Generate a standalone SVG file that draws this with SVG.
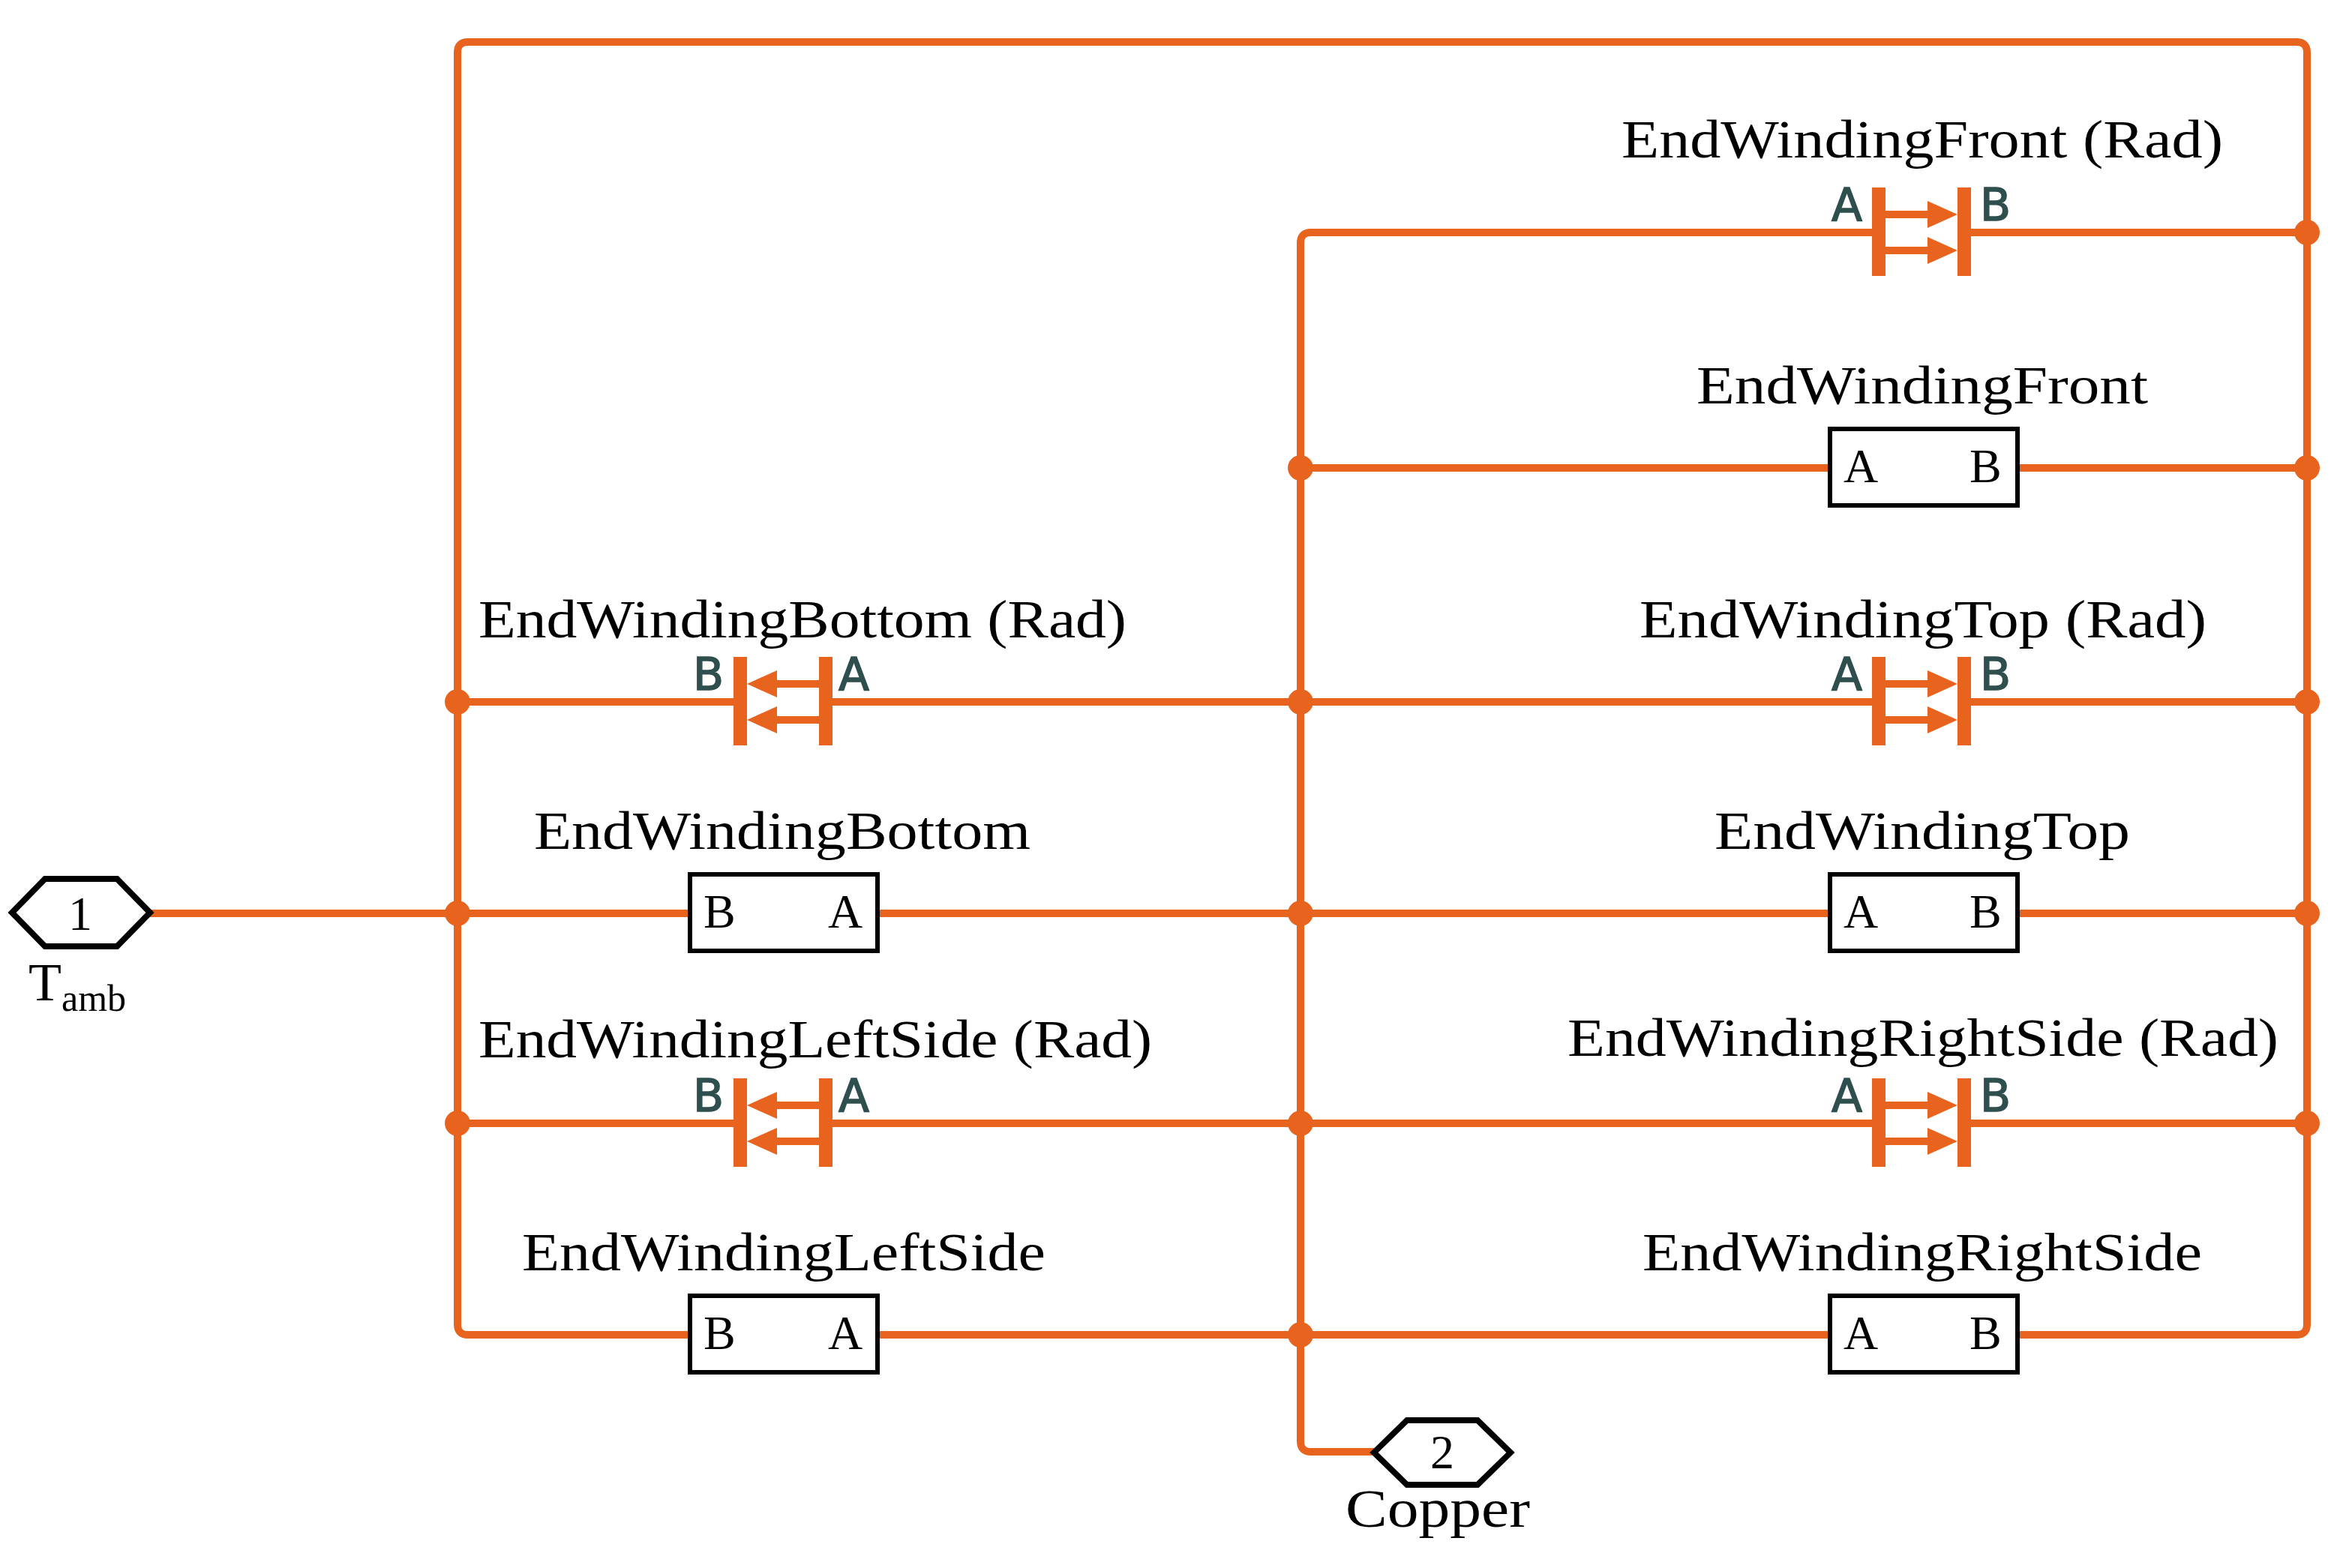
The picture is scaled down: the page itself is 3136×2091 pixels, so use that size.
<svg xmlns="http://www.w3.org/2000/svg" width="3136" height="2091" viewBox="0 0 3136 2091">
<style>
.w{fill:none;stroke:#E8641E;stroke-width:10;stroke-linecap:butt}
.d{fill:#E8641E}
.box{fill:#fff;stroke:#000;stroke-width:6}
.hex{fill:#fff;stroke:#000;stroke-width:8}
.lbl{font-family:"Liberation Serif",serif;font-size:72px;fill:#000}
.pin{font-family:"Liberation Serif",serif;font-size:64px;fill:#000}
.rp{font-family:"DejaVu Sans","Liberation Sans",sans-serif;font-size:60px;fill:#2F4F4F;stroke:#2F4F4F;stroke-width:1.5}
</style>
<defs>
<g id="rad">
<rect x="-66" y="-60" width="18" height="118" fill="#E8641E"/>
<rect x="48" y="-60" width="18" height="118" fill="#E8641E"/>
<path d="M-50 -24H14M-50 24H14" stroke="#E8641E" stroke-width="10"/>
<polygon points="8,-42 48,-24 8,-6" fill="#E8641E"/>
<polygon points="8,6 48,24 8,42" fill="#E8641E"/>
</g>
</defs>
<g id="connectors">
<path class="w" d="M920 1780H624Q610 1780 610 1766V70Q610 56 624 56H3062Q3076 56 3076 70V1766Q3076 1780 3062 1780H2690"/>
<path class="w" d="M2500 310H1748Q1734 310 1734 324V1922Q1734 1936 1748 1936H1832"/>
<path class="w" d="M2626 310H3076M1734 624H2440M2690 624H3076M610 936H980M1108 936H2498M2626 936H3076M200 1218H920M1170 1218H2440M2690 1218H3076M610 1498H980M1108 1498H2498M2626 1498H3076M1170 1780H2440"/>
<g class="d">
<circle cx="1734" cy="624" r="17"/><circle cx="3076" cy="310" r="17"/><circle cx="3076" cy="624" r="17"/>
<circle cx="610" cy="936" r="17"/><circle cx="1734" cy="936" r="17"/><circle cx="3076" cy="936" r="17"/>
<circle cx="610" cy="1218" r="17"/><circle cx="1734" cy="1218" r="17"/><circle cx="3076" cy="1218" r="17"/>
<circle cx="610" cy="1498" r="17"/><circle cx="1734" cy="1498" r="17"/><circle cx="3076" cy="1498" r="17"/>
<circle cx="1734" cy="1780" r="17"/>
</g>
</g>
<g id="EndWindingFrontRad">
<use href="#rad" x="2562" y="310"/>
<text class="rp" x="2442" y="294">A</text><text class="rp" x="2640" y="294">B</text>
<text class="lbl" x="2162" y="210" textLength="802" lengthAdjust="spacingAndGlyphs">EndWindingFront (Rad)</text>
</g>
<g id="EndWindingFront">
<rect class="box" x="2440" y="572" width="250" height="102"/>
<text class="pin" x="2458" y="643">A</text><text class="pin" x="2626" y="643">B</text>
<text class="lbl" x="2262" y="538" textLength="602" lengthAdjust="spacingAndGlyphs">EndWindingFront</text>
</g>
<g id="EndWindingTopRad">
<use href="#rad" x="2562" y="936"/>
<text class="rp" x="2442" y="920">A</text><text class="rp" x="2640" y="920">B</text>
<text class="lbl" x="2186" y="850" textLength="756" lengthAdjust="spacingAndGlyphs">EndWindingTop (Rad)</text>
</g>
<g id="EndWindingTop">
<rect class="box" x="2440" y="1166" width="250" height="102"/>
<text class="pin" x="2458" y="1237">A</text><text class="pin" x="2626" y="1237">B</text>
<text class="lbl" x="2286" y="1132" textLength="554" lengthAdjust="spacingAndGlyphs">EndWindingTop</text>
</g>
<g id="EndWindingRightSideRad">
<use href="#rad" x="2562" y="1498"/>
<text class="rp" x="2442" y="1482">A</text><text class="rp" x="2640" y="1482">B</text>
<text class="lbl" x="2090" y="1408" textLength="948" lengthAdjust="spacingAndGlyphs">EndWindingRightSide (Rad)</text>
</g>
<g id="EndWindingRightSide">
<rect class="box" x="2440" y="1728" width="250" height="102"/>
<text class="pin" x="2458" y="1799">A</text><text class="pin" x="2626" y="1799">B</text>
<text class="lbl" x="2190" y="1694" textLength="746" lengthAdjust="spacingAndGlyphs">EndWindingRightSide</text>
</g>
<g id="EndWindingBottomRad">
<use href="#rad" transform="translate(1044 936) scale(-1 1)"/>
<text class="rp" x="924" y="920">B</text><text class="rp" x="1118" y="920">A</text>
<text class="lbl" x="638" y="850" textLength="864" lengthAdjust="spacingAndGlyphs">EndWindingBottom (Rad)</text>
</g>
<g id="EndWindingBottom">
<rect class="box" x="920" y="1166" width="250" height="102"/>
<text class="pin" x="938" y="1237">B</text><text class="pin" x="1104" y="1237">A</text>
<text class="lbl" x="712" y="1132" textLength="662" lengthAdjust="spacingAndGlyphs">EndWindingBottom</text>
</g>
<g id="EndWindingLeftSideRad">
<use href="#rad" transform="translate(1044 1498) scale(-1 1)"/>
<text class="rp" x="924" y="1482">B</text><text class="rp" x="1118" y="1482">A</text>
<text class="lbl" x="638" y="1410" textLength="898" lengthAdjust="spacingAndGlyphs">EndWindingLeftSide (Rad)</text>
</g>
<g id="EndWindingLeftSide">
<rect class="box" x="920" y="1728" width="250" height="102"/>
<text class="pin" x="938" y="1799">B</text><text class="pin" x="1104" y="1799">A</text>
<text class="lbl" x="696" y="1694" textLength="698" lengthAdjust="spacingAndGlyphs">EndWindingLeftSide</text>
</g>
<g id="port1">
<polygon class="hex" points="16,1217 60,1172 156,1172 200,1217 156,1262 60,1262"/>
<text class="pin" x="107" y="1240" text-anchor="middle">1</text>
<text class="lbl" x="38" y="1334" font-size="66">T<tspan font-size="50" dy="14">amb</tspan></text>
</g>
<g id="port2">
<polygon class="hex" points="1832,1937 1876,1894 1970,1894 2014,1937 1970,1980 1876,1980"/>
<text class="pin" x="1923" y="1958" text-anchor="middle" font-size="60">2</text>
<text class="lbl" x="1794" y="2036" textLength="246" lengthAdjust="spacingAndGlyphs">Copper</text>
</g>
</svg>
